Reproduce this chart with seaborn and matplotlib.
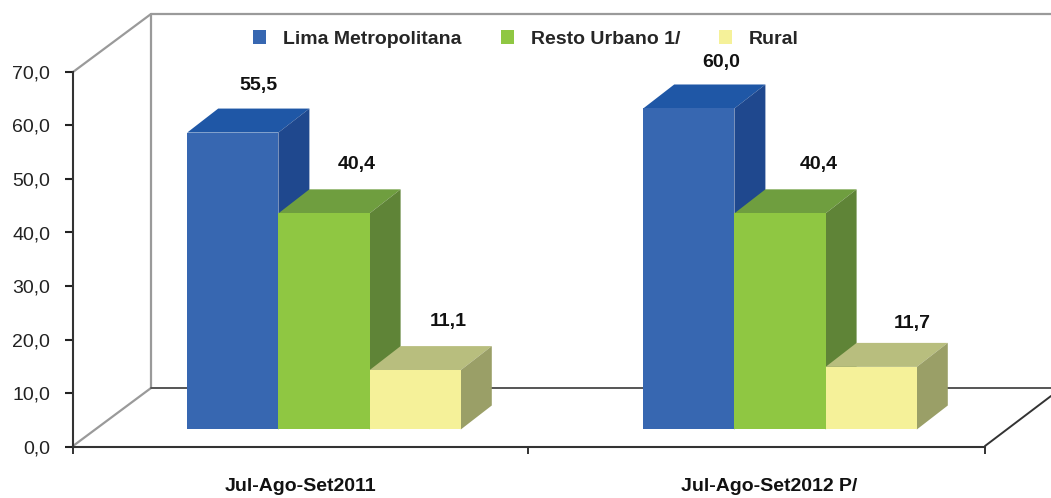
import pandas as pd
import seaborn as sns
import matplotlib.pyplot as plt
from matplotlib.lines import Line2D
from matplotlib.patches import Patch, Polygon

# Data
periods = ["Jul-Ago-Set2011", "Jul-Ago-Set2012 P/"]
areas = ["Lima Metropolitana", "Resto Urbano 1/", "Rural"]
lima = [55.5, 60.0]
resto = [40.4, 40.4]
rural = [11.1, 11.7]
y_ticks = [0, 10, 20, 30, 40, 50, 60, 70]

# front, top, side colours for each area
front = ["#3767B1", "#8FC742", "#F5F199"]
top = ["#1F57A6", "#6F9E3F", "#B8BE7E"]
side = ["#1F488E", "#5F8437", "#9A9F67"]

W, H = 1051, 498

sns.set_style("white")
plt.rcParams["font.family"] = ["Liberation Sans", "DejaVu Sans"]

df = pd.DataFrame({
    "period": periods * 3,
    "area": [a for a in areas for _ in periods],
    "value": lima + resto + rural,
})

fig = plt.figure(figsize=(W / 100, H / 100), dpi=100)
# axes box runs from the x axis start to its end, 0 to 70 on y (pixel numbers from the picture)
ax = fig.add_axes([73 / W, 1 - 446.5 / H, (985 - 73) / W, (446.5 - 72) / H])

sns.barplot(data=df, x="period", y="value", hue="area", hue_order=areas, order=periods,
            palette=front, width=0.6, gap=0, saturation=1, legend=False, ax=ax, zorder=3)

ax.set_xlim(-251 / 456, 661 / 456)
ax.set_ylim(0, 70)

# 3d look: lift bars off the axis and add top + side faces
base = 3.18
dx = 31 / 456
dy = 24 / 5.35
nudge = [[(26, -47), (32, -46)], [(33, -49), (39, -49)], [(33, -49), (41, -43)]]

for i, cont in enumerate(ax.containers):
    for j, bar in enumerate(cont):
        h = bar.get_height()
        bar.set_y(base)
        bar.set_linewidth(0)
        bar.set_zorder(3 + 2 * i)
        x0 = bar.get_x()
        x1 = x0 + bar.get_width()
        y1 = base + h
        ax.add_patch(Polygon([(x0, y1), (x1, y1), (x1 + dx, y1 + dy), (x0 + dx, y1 + dy)],
                             fc=top[i], lw=0, zorder=2 + 2 * i))
        ax.add_patch(Polygon([(x1, base), (x1 + dx, base + dy), (x1 + dx, y1 + dy), (x1, y1)],
                             fc=side[i], lw=0, zorder=2 + 2 * i))
        ax.annotate(f"{h:.1f}".replace(".", ","), xy=((x0 + x1) / 2, y1),
                    xytext=(nudge[i][j][0] * 0.72, -nudge[i][j][1] * 0.72),
                    textcoords="offset points", ha="center", va="center",
                    fontsize=14, fontweight="bold", color="#111111", zorder=20)

# walls and floor, in picture pixels, behind the axes
def frame_line(xs, ys, color, lw):
    fig.add_artist(Line2D([x / W for x in xs], [1 - y / H for y in ys], color=color, lw=lw, zorder=-1))

frame_line([73, 151, 1051], [72, 14, 14], "#9A9A9A", 1.6)
frame_line([151, 151], [14, 388], "#9A9A9A", 1.6)
frame_line([73, 151], [446, 388], "#9A9A9A", 1.6)
frame_line([151, 1051], [388, 388], "#555555", 1.4)
frame_line([985, 1051], [446, 396], "#333333", 1.4)

# axes
sns.despine(ax=ax)
ax.patch.set_visible(False)
for s in ["left", "bottom"]:
    ax.spines[s].set_color("#333333")
    ax.spines[s].set_linewidth(1.5)

ax.set_yticks(y_ticks)
ax.set_yticklabels([f"{v:.1f}".replace(".", ",") for v in y_ticks], fontsize=14, color="#222222")
ax.tick_params(axis="y", left=True, length=5.5, width=1.5, color="#222222", pad=11)

ax.set_xticks([-251 / 456, 204 / 456, 661 / 456])
ax.set_xticklabels(["", "", ""])
ax.tick_params(axis="x", which="major", bottom=True, length=5, width=1.3, color="#222222")
ax.set_xticks([-24 / 456, 445 / 456], minor=True)
ax.set_xticklabels(periods, minor=True, fontsize=14, fontweight="bold", color="#111111")
ax.tick_params(axis="x", which="minor", bottom=False, length=0, pad=23)
ax.set_xlabel("")
ax.set_ylabel("")

# legend
handles = [Patch(fc=c, lw=0, label=a) for c, a in zip(front, areas)]
fig.legend(handles=handles, ncols=3, frameon=False, loc="center left",
           bbox_to_anchor=(253 / W, 1 - 39 / H),
           prop={"weight": "bold", "size": 14},
           handlelength=0.67, handleheight=0.67, handletextpad=0.88, columnspacing=2.0,
           borderpad=0, borderaxespad=0)

fig.savefig("out.png", dpi=100)
